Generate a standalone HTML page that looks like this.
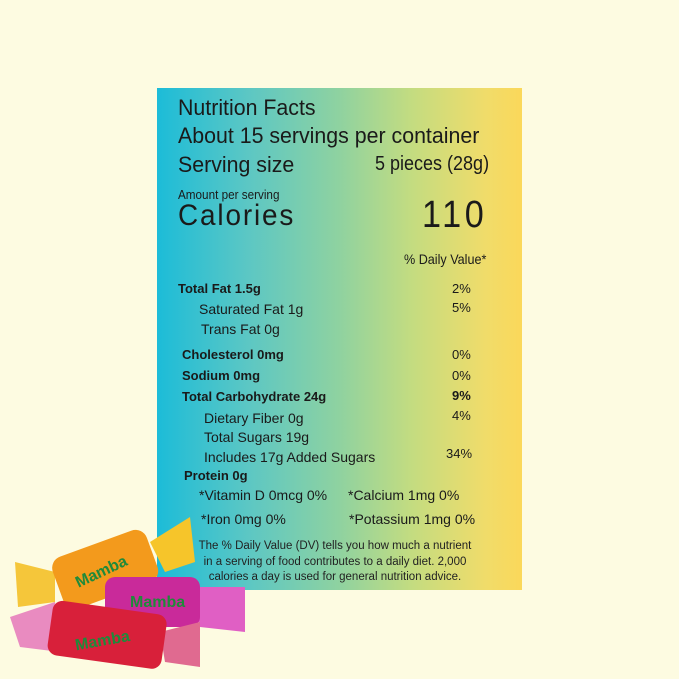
<!DOCTYPE html>
<html><head><style>
body{margin:0;width:679px;height:679px;background:#fdfbe1;position:relative;overflow:hidden;font-family:"Liberation Sans",sans-serif;color:#1a1a1a}
#p{position:absolute;left:157px;top:88px;width:365px;height:502px;background:linear-gradient(90deg,#1cbcd8 0%,#5cc7c4 25%,#8fd2a0 50%,#c4dc80 70%,#f0dc6a 90%,#fbd85a 100%)}
.t{position:absolute;white-space:nowrap;transform-origin:0 0}
.n{transform:scaleX(0.97)}
.b{font-weight:bold}
</style></head><body>
<div id="p"></div>
<div class="t n" style="left:178px;top:95px;font-size:22px">Nutrition Facts</div>
<div class="t n" style="left:178px;top:123px;font-size:22px">About 15 servings per container</div>
<div class="t n" style="left:178px;top:152px;font-size:22px">Serving size</div>
<div class="t" style="left:375px;top:153px;font-size:20px;transform:scaleX(0.9)">5 pieces (28g)</div>
<div class="t" style="left:178px;top:187px;font-size:13px;transform:scaleX(0.9)">Amount per serving</div>
<div class="t" style="left:178px;top:199px;font-size:30px;letter-spacing:2px;transform:scaleX(0.93)">Calories</div>
<div class="t" style="left:422px;top:194px;font-size:38px;letter-spacing:4px;transform:scaleX(0.9)">110</div>
<div class="t" style="left:404px;top:251px;font-size:14px;transform:scaleX(0.9)">% Daily Value*</div>
<div class="t b" style="left:178px;top:281px;font-size:13px">Total Fat 1.5g</div>
<div class="t" style="left:199px;top:301px;font-size:14px">Saturated Fat 1g</div>
<div class="t" style="left:201px;top:321px;font-size:14px">Trans Fat 0g</div>
<div class="t b" style="left:182px;top:347px;font-size:13px">Cholesterol 0mg</div>
<div class="t b" style="left:182px;top:368px;font-size:13px">Sodium 0mg</div>
<div class="t b" style="left:182px;top:389px;font-size:13px">Total Carbohydrate 24g</div>
<div class="t" style="left:204px;top:410px;font-size:14px">Dietary Fiber 0g</div>
<div class="t" style="left:204px;top:429px;font-size:14px">Total Sugars 19g</div>
<div class="t" style="left:204px;top:449px;font-size:14px">Includes 17g Added Sugars</div>
<div class="t b" style="left:184px;top:468px;font-size:13px">Protein 0g</div>
<div class="t" style="left:199px;top:487px;font-size:14px">*Vitamin D 0mcg 0%</div>
<div class="t" style="left:348px;top:487px;font-size:14px">*Calcium 1mg 0%</div>
<div class="t" style="left:201px;top:511px;font-size:14px">*Iron 0mg 0%</div>
<div class="t" style="left:349px;top:511px;font-size:14px">*Potassium 1mg 0%</div>
<div class="t" style="left:452px;top:281px;font-size:13px">2%</div>
<div class="t" style="left:452px;top:300px;font-size:13px">5%</div>
<div class="t" style="left:452px;top:347px;font-size:13px">0%</div>
<div class="t" style="left:452px;top:368px;font-size:13px">0%</div>
<div class="t b" style="left:452px;top:388px;font-size:13px">9%</div>
<div class="t" style="left:452px;top:408px;font-size:13px">4%</div>
<div class="t" style="left:446px;top:446px;font-size:13px">34%</div>
<div style="position:absolute;left:170px;width:330px;top:539px;font-size:11.5px;line-height:15.5px;text-align:center;color:#222">The % Daily Value (DV) tells you how much a nutrient<br>in a serving of food contributes to a daily diet. 2,000<br>calories a day is used for general nutrition advice.</div>
<svg style="position:absolute;left:0;top:502px" width="260" height="170">
<polygon points="150,40 190,15 195,60 165,70" fill="#f6c52a"/>
<polygon points="15,60 55,70 55,100 18,105" fill="#f5c63a"/>
<rect x="55" y="40" width="100" height="55" rx="12" fill="#f39a1c" transform="rotate(-20 105 67)"/>
<text x="75" y="80" font-size="16" font-weight="bold" fill="#1f8a3a" transform="rotate(-25 90 75)">Mamba</text>
<polygon points="190,85 245,85 245,130 200,125" fill="#e05fc4"/>
<rect x="105" y="75" width="95" height="50" rx="10" fill="#c92a9a"/>
<text x="130" y="105" font-size="16" font-weight="bold" fill="#1f8a3a">Mamba</text>
<polygon points="10,115 55,100 60,150 20,145" fill="#e98bc0"/>
<polygon points="160,130 200,120 200,165 165,160" fill="#e06a90"/>
<rect x="50" y="105" width="115" height="55" rx="10" fill="#d8203a" transform="rotate(8 105 130)"/>
<text x="75" y="145" font-size="16" font-weight="bold" fill="#1f8a3a" transform="rotate(-10 95 140)">Mamba</text>
</svg>
</body></html>
